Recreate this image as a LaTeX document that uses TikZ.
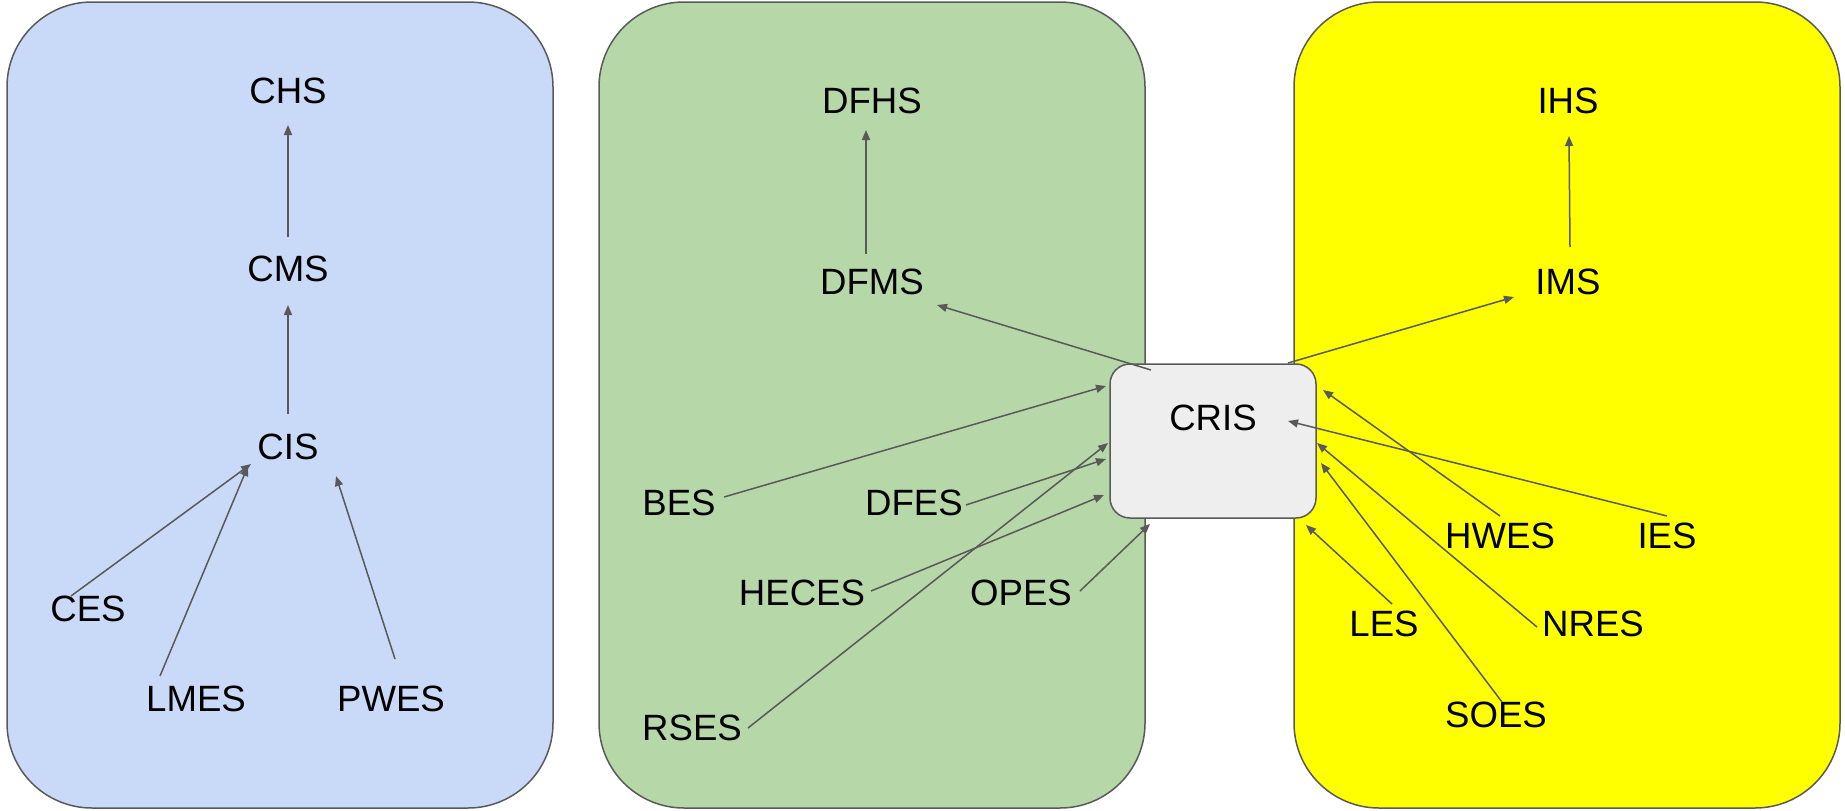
\documentclass[tikz,border=0pt]{standalone}
\usepackage{fontspec}
\setmainfont{Liberation Sans}
\usetikzlibrary{calc,arrows.meta}
\definecolor{pblue}{HTML}{C9DAF8}
\definecolor{pgreen}{HTML}{B6D7A8}
\definecolor{pyellow}{HTML}{FFFF00}
\definecolor{crisfill}{HTML}{EEEEEE}
\definecolor{edgegray}{HTML}{595959}
\tikzset{
  panel/.style={draw=edgegray, line width=1.5pt, rounded corners=85pt},
  crisbox/.style={draw=edgegray, fill=crisfill, line width=1.5pt, rounded corners=20pt,
    minimum width=206pt, minimum height=154pt, inner sep=0pt, text depth=46pt,
    font=\fontsize{36.6}{43}\selectfont},
  lbl/.style={inner sep=0pt, font=\fontsize{36.6}{43}\selectfont},
  arr/.style={draw=edgegray, line width=1.5pt, -{Triangle[length=10pt,width=8pt]}}
}
\begin{document}
\begin{tikzpicture}[x=1pt,y=-1pt]
\useasboundingbox (0,0) rectangle (1845,811);
% panels
\draw[panel, fill=pblue] (7,2) rectangle (553,808);
\draw[panel, fill=pgreen] (599,2) rectangle (1145,808);
\draw[panel, fill=pyellow] (1294,2) rectangle (1840,808);
% central box
\node[crisbox] (CRIS) at (1213,441) {CRIS};
% blue panel labels
\node[lbl] (CHS) at (288,91) {CHS};
\node[lbl] (CMS) at (288,269) {CMS};
\node[lbl] (CIS) at (288,447) {CIS};
\node[lbl] (CES) at (88,609) {CES};
\node[lbl] (LMES) at (196,699) {LMES};
\node[lbl] (PWES) at (391,699) {PWES};
% green panel labels
\node[lbl] (DFHS) at (872,101) {DFHS};
\node[lbl] (DFMS) at (872,282) {DFMS};
\node[lbl] (BES) at (679,503) {BES};
\node[lbl] (DFES) at (914,503) {DFES};
\node[lbl] (HECES) at (802,593) {HECES};
\node[lbl] (OPES) at (1021,593) {OPES};
\node[lbl] (RSES) at (692,728) {RSES};
% yellow panel labels
\node[lbl] (IHS) at (1568,101) {IHS};
\node[lbl] (IMS) at (1568,282) {IMS};
\node[lbl] (HWES) at (1500,536) {HWES};
\node[lbl] (IES) at (1667,536) {IES};
\node[lbl] (LES) at (1384,624) {LES};
\node[lbl] (NRES) at (1593,624) {NRES};
\node[lbl] (SOES) at (1496,715) {SOES};
% blue arrows
\draw[arr] ($(CIS)+(0,-33)$) -- ($(CMS)+(0,36)$);
\draw[arr] ($(CMS)+(0,-32)$) -- ($(CHS)+(0,34)$);
\draw[arr] ($(CES)+(-17,-13)$) -- ($(CIS)+(-37,17)$);
\draw[arr] ($(LMES)+(-36,-23)$) -- ($(CIS)+(-40,19)$);
\draw[arr] ($(PWES)+(4,-40)$) -- ($(CIS)+(48,29)$);
% green arrows
\draw[arr] ($(DFMS)+(-6,-28)$) -- ($(DFHS)+(-6,29)$);
\draw[arr] ($(CRIS)+(-62,-71)$) -- ($(DFMS)+(65,23)$);
\draw[arr] ($(BES)+(45,-6)$) -- ($(CRIS)+(-107,-55)$);
\draw[arr] ($(DFES)+(52,2)$) -- ($(CRIS)+(-107,18)$);
\draw[arr] ($(HECES)+(69,-2)$) -- ($(CRIS)+(-109,54)$);
\draw[arr] ($(RSES)+(56,0)$) -- ($(CRIS)+(-105,2)$);
\draw[arr] ($(OPES)+(59,-2)$) -- ($(CRIS)+(-63,83)$);
% yellow arrows
\draw[arr] ($(IMS)+(2,-35)$) -- ($(IHS)+(1,35)$);
\draw[arr] ($(CRIS)+(75,-78)$) -- ($(IMS)+(-54,15)$);
\draw[arr] ($(HWES)+(0,-20)$) -- ($(CRIS)+(110,-51)$);
\draw[arr] ($(IES)+(0,-20)$) -- ($(CRIS)+(75,-20)$);
\draw[arr] ($(LES)+(8,-20)$) -- ($(CRIS)+(93,84)$);
\draw[arr] ($(NRES)+(-56,3)$) -- ($(CRIS)+(104,2)$);
\draw[arr] ($(SOES)+(6,-13)$) -- ($(CRIS)+(108,22)$);
\end{tikzpicture}
\end{document}
